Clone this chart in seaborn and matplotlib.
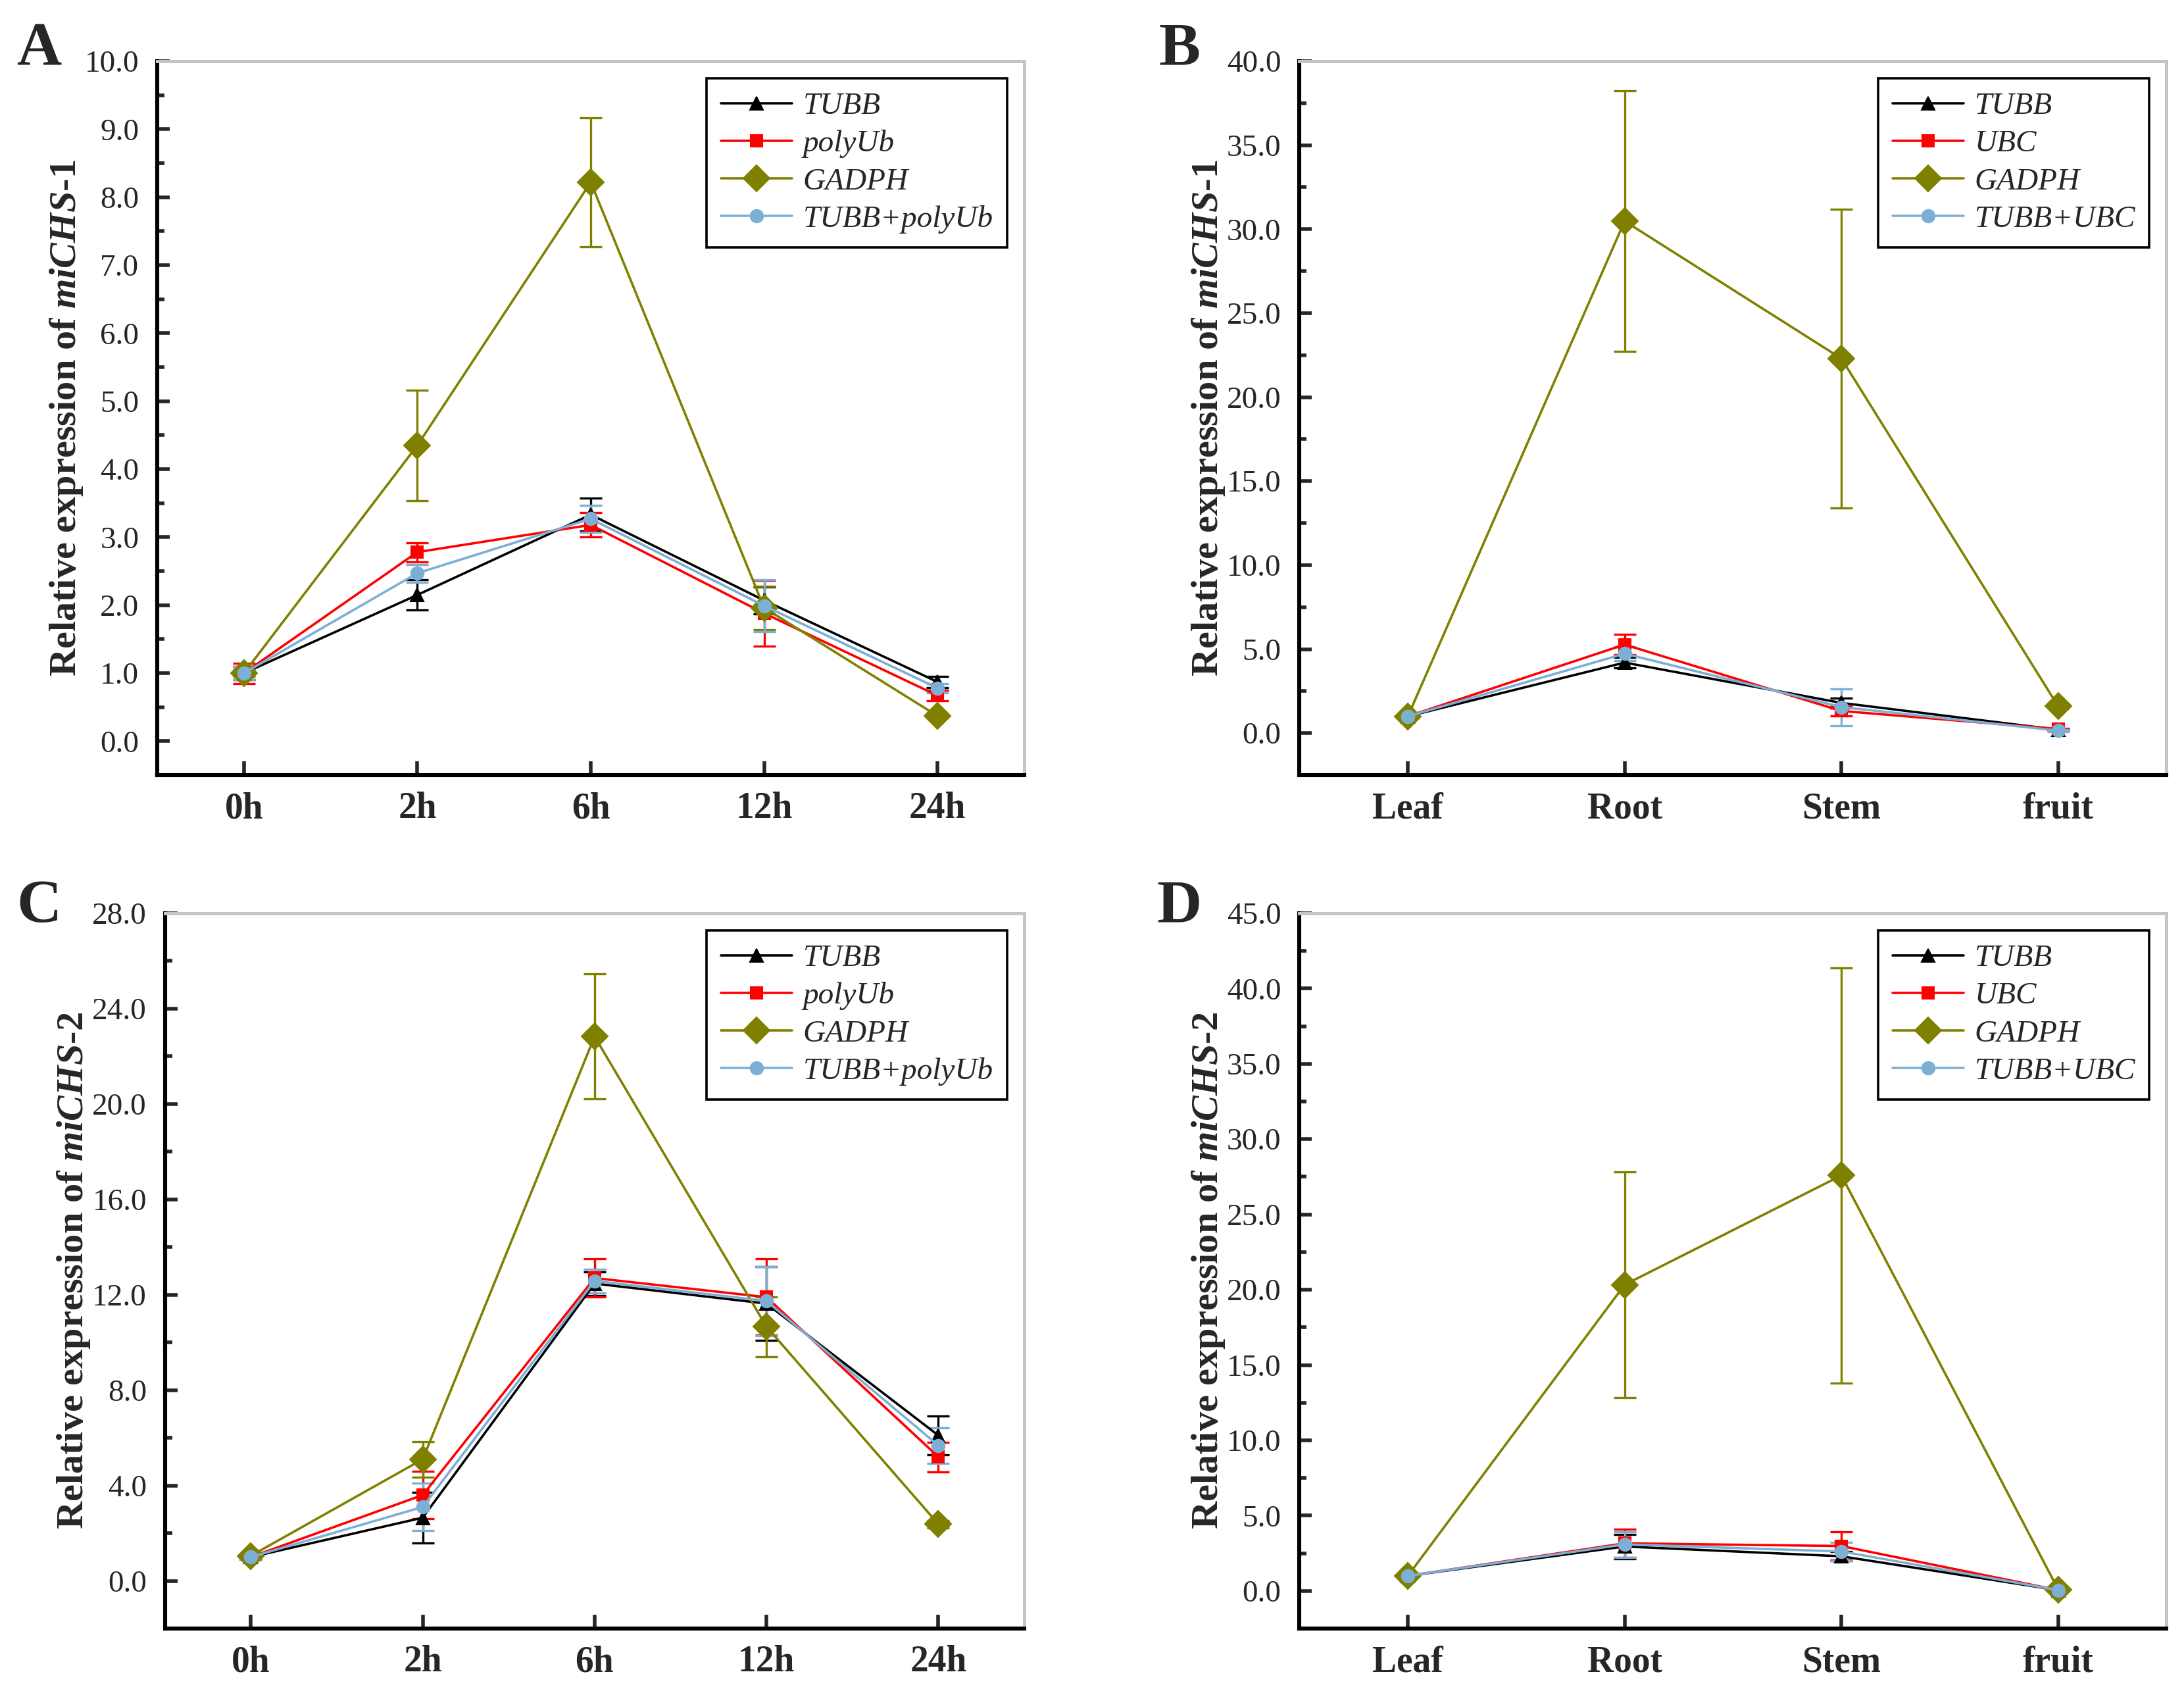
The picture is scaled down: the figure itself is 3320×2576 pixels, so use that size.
import numpy as np
import pandas as pd
import seaborn as sns
import matplotlib
matplotlib.use('Agg')
import matplotlib.pyplot as plt
from matplotlib.ticker import MultipleLocator, FormatStrFormatter

# ---- data ----
times = ['0h', '2h', '6h', '12h', '24h']
tissues = ['Leaf', 'Root', 'Stem', 'fruit']

# A: miCHS-1 over time
a_tubb = [1.00, 2.15, 3.33, 2.07, 0.87]
a_tubb_err = [0.10, 0.22, 0.24, 0.20, 0.08]
a_poly = [1.00, 2.78, 3.18, 1.88, 0.67]
a_poly_err = [0.15, 0.14, 0.18, 0.48, 0.08]
a_gadph = [1.00, 4.35, 8.22, 1.96, 0.37]
a_gadph_err = [0.05, 0.81, 0.95, 0.32, 0.03]
a_comb = [1.00, 2.47, 3.27, 1.99, 0.78]
a_comb_err = [0.10, 0.13, 0.20, 0.38, 0.07]

# B: miCHS-1 in tissues
b_tubb = [1.00, 4.20, 1.80, 0.20]
b_tubb_err = [0.10, 0.30, 0.30, 0.05]
b_ubc = [1.00, 5.27, 1.32, 0.25]
b_ubc_err = [0.10, 0.60, 0.30, 0.05]
b_gadph = [1.00, 30.48, 22.30, 1.60]
b_gadph_err = [0.10, 7.75, 8.90, 0.10]
b_comb = [1.00, 4.73, 1.55, 0.15]
b_comb_err = [0.10, 0.40, 1.10, 0.05]

# C: miCHS-2 over time
c_tubb = [1.00, 2.65, 12.47, 11.63, 6.10]
c_tubb_err = [0.10, 1.05, 0.50, 1.55, 0.82]
c_poly = [1.00, 3.60, 12.70, 11.90, 5.20]
c_poly_err = [0.10, 1.00, 0.80, 1.60, 0.62]
c_gadph = [1.05, 5.10, 22.83, 10.66, 2.38]
c_gadph_err = [0.10, 0.75, 2.62, 1.25, 0.15]
c_comb = [1.00, 3.10, 12.58, 11.74, 5.68]
c_comb_err = [0.10, 1.00, 0.50, 1.45, 0.75]

# D: miCHS-2 in tissues
d_tubb = [1.00, 2.95, 2.30, 0.05]
d_tubb_err = [0.10, 0.80, 0.30, 0.03]
d_ubc = [1.00, 3.16, 2.98, 0.05]
d_ubc_err = [0.10, 0.95, 0.95, 0.03]
d_gadph = [1.00, 20.33, 27.59, 0.10]
d_gadph_err = [0.10, 7.50, 13.80, 0.05]
d_comb = [1.00, 3.09, 2.62, 0.05]
d_comb_err = [0.10, 0.85, 0.60, 0.03]

colors = {'TUBB': '#000000', 'ref2': '#ff0000', 'GADPH': '#808000', 'comb': '#7bafd4'}

sns.set_style('white')
plt.rcParams['font.family'] = ['Liberation Serif', 'DejaVu Serif']
plt.rcParams['mathtext.fontset'] = 'custom'
plt.rcParams['mathtext.rm'] = 'Liberation Serif:bold'
plt.rcParams['mathtext.it'] = 'Liberation Serif:italic:bold'
plt.rcParams['mathtext.bf'] = 'Liberation Serif:bold'

fig = plt.figure(figsize=(16.6, 12.88), dpi=200)

positions = {
    'A': [0.072, 0.5427, 0.397, 0.4212],
    'B': [0.595, 0.5427, 0.397, 0.4212],
    'C': [0.0755, 0.0392, 0.3935, 0.422],
    'D': [0.595, 0.0392, 0.397, 0.422],
}
letter_xy = {'A': (0.0178, 0.9705), 'B': (0.540, 0.9705),
             'C': (0.0178, 0.4647), 'D': (0.540, 0.4647)}


def panel(letter, cats, series, ref2_name, gene, ylim, major, minor):
    ax = fig.add_axes(positions[letter])
    x = np.arange(len(cats))
    names = ['TUBB', ref2_name, 'GADPH', 'TUBB+' + ref2_name]
    keys = ['TUBB', 'ref2', 'GADPH', 'comb']
    marks = ['^', 's', 'D', 'o']
    msizes = [7, 6.5, 10, 7]
    for (vals, errs), name, key, m, ms in zip(series, names, keys, marks, msizes):
        c = colors[key]
        ax.errorbar(x, vals, yerr=errs, fmt='none', ecolor=c, elinewidth=1.2,
                    capsize=6, capthick=1.2, zorder=2)
        sns.lineplot(x=x, y=vals, color=c, marker=m, markersize=ms,
                     markeredgecolor=c, linewidth=1.3, label=name, ax=ax,
                     zorder=3)
    ax.set_xlim(-0.5, len(cats) - 0.5)
    ax.set_ylim(*ylim)
    ax.set_xticks(x)
    ax.set_xticklabels(cats, fontsize=20, fontweight='bold')
    ax.yaxis.set_major_locator(MultipleLocator(major))
    ax.yaxis.set_minor_locator(MultipleLocator(minor))
    ax.yaxis.set_major_formatter(FormatStrFormatter('%.1f'))
    for lab in ax.get_yticklabels():
        lab.set_fontsize(17)
    ax.tick_params(axis='y', which='major', direction='in', length=7, width=2,
                   left=True, right=False, pad=10)
    ax.tick_params(axis='y', which='minor', direction='in', length=4, width=2,
                   left=True, right=False)
    ax.tick_params(axis='x', which='major', direction='in', length=7.5, width=2,
                   bottom=True, top=False, pad=9)
    ax.tick_params(axis='x', which='minor', bottom=False, top=False)
    for side in ['left', 'bottom']:
        ax.spines[side].set_color('black')
        ax.spines[side].set_linewidth(2.2)
    for side in ['top', 'right']:
        ax.spines[side].set_color('#c4c4c4')
        ax.spines[side].set_linewidth(1.8)
    ax.set_xlabel('')
    ax.set_ylabel('Relative expression of $miCHS$-$\\mathit{' + gene + '}$',
                  fontsize=21, fontweight='bold', labelpad=0)
    leg = ax.legend(loc='upper right', frameon=True, fancybox=False,
                    prop={'family': 'Liberation Serif', 'style': 'italic', 'size': 17},
                    handlelength=2.3, handletextpad=0.35, labelspacing=0.3,
                    borderpad=0.45, borderaxespad=0.55)
    leg.get_frame().set_edgecolor('black')
    leg.get_frame().set_linewidth(1.3)
    leg.get_frame().set_alpha(1)
    lx, ly = letter_xy[letter]
    fig.text(lx, ly, letter, fontsize=34, fontweight='bold', ha='center', va='center')
    return ax


panel('A', times, [(a_tubb, a_tubb_err), (a_poly, a_poly_err), (a_gadph, a_gadph_err),
                   (a_comb, a_comb_err)], 'polyUb', '1', (-0.5, 10.0), 1.0, 0.5)
panel('B', tissues, [(b_tubb, b_tubb_err), (b_ubc, b_ubc_err), (b_gadph, b_gadph_err),
                     (b_comb, b_comb_err)], 'UBC', '1', (-2.5, 40.0), 5.0, 2.5)
panel('C', times, [(c_tubb, c_tubb_err), (c_poly, c_poly_err), (c_gadph, c_gadph_err),
                   (c_comb, c_comb_err)], 'polyUb', '2', (-2.0, 28.0), 4.0, 2.0)
panel('D', tissues, [(d_tubb, d_tubb_err), (d_ubc, d_ubc_err), (d_gadph, d_gadph_err),
                     (d_comb, d_comb_err)], 'UBC', '2', (-2.5, 45.0), 5.0, 2.5)

fig.savefig('out.png', dpi=200)
